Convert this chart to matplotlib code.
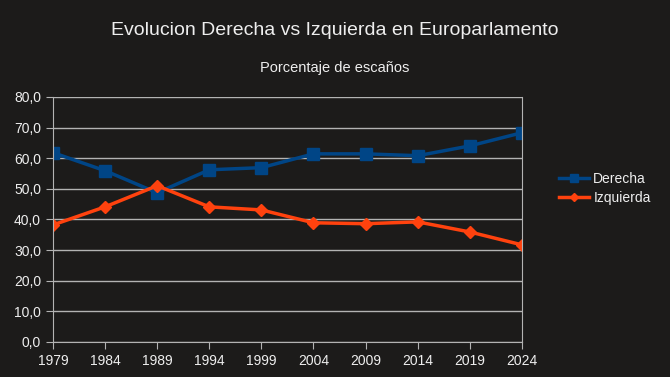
import matplotlib.pyplot as plt
from matplotlib.ticker import FuncFormatter

# data
years = [1979, 1984, 1989, 1994, 1999, 2004, 2009, 2014, 2019, 2024]
derecha = [61.8, 55.9, 48.7, 56.2, 56.9, 61.4, 61.4, 60.8, 64.0, 68.3]
izquierda = [38.2, 44.1, 51.0, 44.1, 43.1, 38.9, 38.6, 39.2, 35.9, 31.7]

bg = '#1c1b1a'
fg = '#eeeeee'
grid = '#b3b3b3'

plt.rcParams['font.family'] = ['Liberation Sans', 'DejaVu Sans']

fig = plt.figure(figsize=(6.7, 3.77), dpi=100, facecolor=bg)
ax = fig.add_axes([0.079, 0.093, 0.7, 0.65])
ax.set_facecolor(bg)

ax.plot(years, derecha, color='#004586', lw=2.5, marker='s', ms=8, label='Derecha')
ax.plot(years, izquierda, color='#ff420e', lw=2.5, marker='D', ms=6, label='Izquierda')

ax.set_xlim(1979, 2024)
ax.set_ylim(0, 80)
ax.set_xticks(years)
ax.set_yticks(range(0, 81, 10))
ax.yaxis.set_major_formatter(FuncFormatter(lambda v, p: f'{v:.1f}'.replace('.', ',')))
ax.grid(axis='y', color=grid, lw=1)
ax.set_axisbelow(True)

for s in ['left', 'right', 'bottom']:
    ax.spines[s].set_color(grid)
ax.spines['top'].set_visible(False)
ax.tick_params(colors=grid, labelcolor=fg, labelsize=10, length=5)

fig.text(0.5, 0.92, 'Evolucion Derecha vs Izquierda en Europarlamento',
         ha='center', va='center', color=fg, fontsize=14)
fig.text(0.5, 0.82, 'Porcentaje de escaños', ha='center', va='center', color=fg, fontsize=10.5)

leg = fig.legend(loc='center left', bbox_to_anchor=(0.815, 0.5), frameon=False,
                 fontsize=10, labelcolor=fg, handlelength=2.2, handletextpad=0.3,
                 labelspacing=0.35, markerscale=0.7)

fig.savefig('out.png', dpi=100, facecolor=bg)
